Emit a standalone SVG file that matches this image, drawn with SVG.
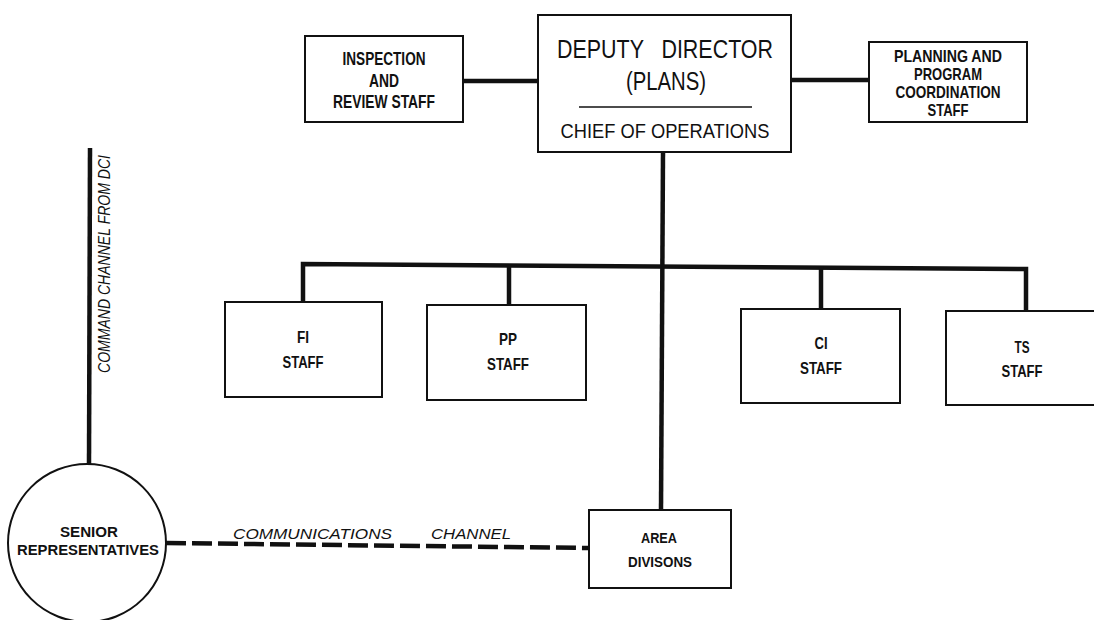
<svg xmlns="http://www.w3.org/2000/svg" width="1094" height="620" viewBox="0 0 1094 620">
<style>
.box{fill:#fff;stroke:#111;stroke-width:2}
.conn{stroke:#111;stroke-width:4.5;fill:none}
.dash{stroke:#111;stroke-width:4.5;fill:none;stroke-dasharray:20 6}
.lbl{font-family:"Liberation Sans",Arial,sans-serif;font-weight:bold;fill:#111;text-anchor:middle}
.dd{font-family:"Liberation Sans",Arial,sans-serif;font-weight:normal;fill:#111;text-anchor:middle;white-space:pre}
.it{font-family:"Liberation Sans",Arial,sans-serif;font-style:italic;font-weight:normal;fill:#111}
</style>
<rect width="1094" height="620" fill="#fff"/>
<g id="connectors">
<line class="conn" x1="463" y1="81" x2="538" y2="81"/>
<line class="conn" x1="791" y1="80" x2="869" y2="80"/>
<line class="conn" x1="663" y1="152" x2="661" y2="510"/>
<polyline class="conn" points="303,302 303,264 1026,269 1026,311"/>
<line class="conn" x1="509" y1="265" x2="509" y2="305"/>
<line class="conn" x1="821" y1="267" x2="821" y2="309"/>
<line class="conn" x1="90" y1="148" x2="89" y2="465"/>
<line class="dash" x1="166" y1="543" x2="589" y2="548"/>
</g>
<g id="deputy-director">
<rect class="box" x="538" y="15" width="253" height="137"/>
<text class="dd" xml:space="preserve" x="665" y="58" font-size="26" textLength="216" lengthAdjust="spacingAndGlyphs">DEPUTY   DIRECTOR</text>
<text class="dd" x="666" y="90" font-size="26" textLength="80" lengthAdjust="spacingAndGlyphs">(PLANS)</text>
<line x1="579" y1="107" x2="752" y2="107" stroke="#111" stroke-width="1.5"/>
<text class="dd" x="665" y="138" font-size="19.5" textLength="209" lengthAdjust="spacingAndGlyphs">CHIEF OF OPERATIONS</text>
</g>
<g id="inspection-review">
<rect class="box" x="305" y="36" width="158" height="86"/>
<text class="lbl" x="384" y="65" font-size="18" textLength="83" lengthAdjust="spacingAndGlyphs">INSPECTION</text>
<text class="lbl" x="384" y="87" font-size="18" textLength="30" lengthAdjust="spacingAndGlyphs">AND</text>
<text class="lbl" x="384" y="108" font-size="18" textLength="102" lengthAdjust="spacingAndGlyphs">REVIEW STAFF</text>
</g>
<g id="planning-program">
<rect class="box" x="869" y="42" width="158" height="80"/>
<text class="lbl" x="948" y="62" font-size="17" textLength="108" lengthAdjust="spacingAndGlyphs">PLANNING AND</text>
<text class="lbl" x="948" y="80" font-size="17" textLength="68" lengthAdjust="spacingAndGlyphs">PROGRAM</text>
<text class="lbl" x="948" y="98" font-size="17" textLength="105" lengthAdjust="spacingAndGlyphs">COORDINATION</text>
<text class="lbl" x="948" y="116" font-size="17" textLength="41" lengthAdjust="spacingAndGlyphs">STAFF</text>
</g>
<g id="fi-staff">
<rect class="box" x="225" y="302" width="157" height="95"/>
<text class="lbl" x="303" y="343" font-size="17" textLength="12" lengthAdjust="spacingAndGlyphs">FI</text>
<text class="lbl" x="303" y="368" font-size="17" textLength="41" lengthAdjust="spacingAndGlyphs">STAFF</text>
</g>
<g id="pp-staff">
<rect class="box" x="427" y="305" width="159" height="95"/>
<text class="lbl" x="508" y="345" font-size="17" textLength="18" lengthAdjust="spacingAndGlyphs">PP</text>
<text class="lbl" x="508" y="370" font-size="17" textLength="42" lengthAdjust="spacingAndGlyphs">STAFF</text>
</g>
<g id="ci-staff">
<rect class="box" x="741" y="309" width="159" height="94"/>
<text class="lbl" x="821" y="349" font-size="17" textLength="13" lengthAdjust="spacingAndGlyphs">CI</text>
<text class="lbl" x="821" y="374" font-size="17" textLength="42" lengthAdjust="spacingAndGlyphs">STAFF</text>
</g>
<g id="ts-staff">
<rect class="box" x="946" y="311" width="160" height="94"/>
<text class="lbl" x="1022" y="353" font-size="17" textLength="15" lengthAdjust="spacingAndGlyphs">TS</text>
<text class="lbl" x="1022" y="377" font-size="17" textLength="41" lengthAdjust="spacingAndGlyphs">STAFF</text>
</g>
<g id="area-divisions">
<rect class="box" x="589" y="510" width="142" height="78"/>
<text class="lbl" x="659" y="543" font-size="15.5" textLength="36" lengthAdjust="spacingAndGlyphs">AREA</text>
<text class="lbl" x="660" y="567" font-size="15.5" textLength="64" lengthAdjust="spacingAndGlyphs">DIVISONS</text>
</g>
<g id="senior-representatives">
<circle class="box" cx="87" cy="543" r="79"/>
<text class="lbl" x="89" y="537" font-size="14.5" textLength="58" lengthAdjust="spacingAndGlyphs">SENIOR</text>
<text class="lbl" x="88" y="555" font-size="14.5" textLength="142" lengthAdjust="spacingAndGlyphs">REPRESENTATIVES</text>
</g>
<g id="channel-labels">
<text class="it" transform="translate(110,264) rotate(-90)" text-anchor="middle" font-size="16" textLength="218" lengthAdjust="spacingAndGlyphs">COMMAND CHANNEL FROM DCI</text>
<text class="it" x="233" y="539" font-size="15" textLength="159" lengthAdjust="spacingAndGlyphs">COMMUNICATIONS</text>
<text class="it" x="431" y="539" font-size="15" textLength="80" lengthAdjust="spacingAndGlyphs">CHANNEL</text>
</g>
</svg>
